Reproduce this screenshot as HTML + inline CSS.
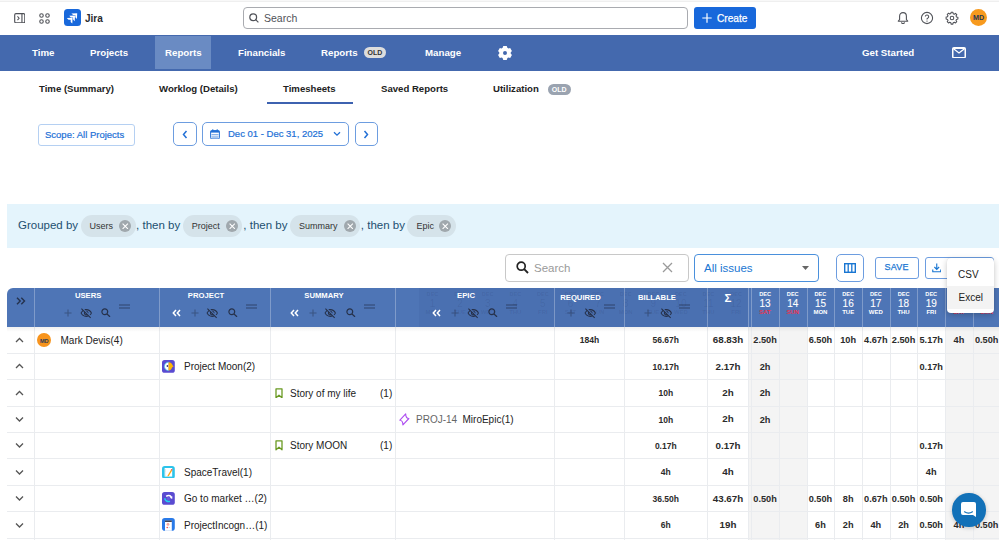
<!DOCTYPE html><html><head><meta charset="utf-8"><style>
*{box-sizing:border-box;margin:0;padding:0}
html,body{width:999px;height:540px;overflow:hidden;background:#fff;font-family:"Liberation Sans",sans-serif;color:#172b4d}
.abs{position:absolute}
.t{position:absolute;white-space:nowrap;line-height:1}
#top{position:absolute;left:0;top:0;width:999px;height:34px;background:#fff;border-top:2px solid #efefef}
#nav{position:absolute;left:0;top:34.5px;width:999px;height:36px;background:#4469ae}
.nv{position:absolute;top:0;height:36px;line-height:36px;color:#fff;font-weight:bold;font-size:9.7px;white-space:nowrap}
.sub{position:absolute;top:83.3px;font-size:9.6px;font-weight:bold;color:#222;white-space:nowrap;line-height:12px}
.badge{display:inline-block;vertical-align:middle;background:#ddd;color:#333;border-radius:6px;font-size:7px;font-weight:bold;padding:0 4px;line-height:11px;position:relative;top:-0.5px}
.btn{position:absolute;border:1px solid #6d9de0;border-radius:4px;background:#fff}
.chip{position:absolute;top:215px;height:22px;border-radius:11px;background:#d5e3ea}
.chip span{position:absolute;top:6px;left:9px;font-size:9px;color:#333;white-space:nowrap;line-height:10px}
.cx{position:absolute;top:4.8px;width:12.2px;height:12.2px;border-radius:50%;background:#a0a8ad}
.gt{position:absolute;top:219px;font-size:11.5px;color:#1c4f70;white-space:nowrap;line-height:12px}
.hdr{position:absolute;left:7px;top:287.5px;width:992px;height:39.3px;background:#4e75b6;border-top-left-radius:6px}
.vl{position:absolute;width:1px;background:#eaecef}
.hl{position:absolute;height:1px;background:#eaecef;left:7px;width:992px}
.ht{position:absolute;top:292px;font-size:7.7px;font-weight:bold;color:#fff;white-space:nowrap;line-height:8px;text-align:center}
.num{position:absolute;font-size:9.2px;font-weight:bold;color:#2b2b2b;white-space:nowrap;line-height:10px;text-align:center}
.cell{position:absolute;font-size:10px;color:#222;white-space:nowrap;line-height:11px}
</style></head><body>
<div id="top">
<div class="abs" style="left:0;top:-2px;width:999px;height:1px;background:#f8f8f8"></div>
<svg class="abs" style="left:13.5px;top:10.6px" width="11.5" height="10.5" viewBox="0 0 12 11"><rect x="0.7" y="0.7" width="10.6" height="9.6" rx="1.3" fill="none" stroke="#505258" stroke-width="1.2"/><line x1="8.3" y1="0.7" x2="8.3" y2="10.3" stroke="#505258" stroke-width="1.2"/><path d="M3.6 3.6 L5.3 5.5 L3.6 7.4" fill="none" stroke="#505258" stroke-width="1.1"/></svg>
<svg class="abs" style="left:38.5px;top:10.5px" width="11" height="11" viewBox="0 0 11 11"><g fill="none" stroke="#505258" stroke-width="1.1"><circle cx="2.5" cy="2.5" r="1.75"/><circle cx="8.5" cy="2.5" r="1.75"/><circle cx="2.5" cy="8.5" r="1.75"/><circle cx="8.5" cy="8.5" r="1.75"/></g></svg>
<div class="abs" style="left:64px;top:7.3px;width:16.5px;height:16.5px;border-radius:3.5px;background:#1868db"></div>
<svg class="abs" style="left:64px;top:7.3px" width="16.5" height="16.5" viewBox="0 0 16.5 16.5"><g fill="#fff"><path d="M7.40 4.49 L13.20 4.20 L12.91 10.00 L11.30 8.29 L11.30 6.10 L9.11 6.10z"/><path d="M5.20 6.79 L11.00 6.50 L10.71 12.30 L9.10 10.59 L9.10 8.40 L6.91 8.40z"/><path d="M2.80 9.09 L8.60 8.80 L8.31 14.60 L6.70 12.89 L6.70 10.70 L4.51 10.70z"/></g></svg>
<div class="t" style="left:85px;top:11.6px;font-size:10px;font-weight:bold;color:#292a2e">Jira</div>
<div class="abs" style="left:243px;top:5px;width:445px;height:22px;border:1px solid #a9abb0;border-radius:4px"></div>
<svg class="abs" style="left:248.5px;top:11px" width="10" height="10" viewBox="0 0 10 10"><circle cx="4.2" cy="4.2" r="3.4" fill="none" stroke="#505258" stroke-width="1.2"/><line x1="6.7" y1="6.7" x2="9.4" y2="9.4" stroke="#505258" stroke-width="1.2"/></svg>
<div class="t" style="left:264px;top:11px;font-size:10.5px;color:#505258">Search</div>
<div class="abs" style="left:694px;top:5px;width:62px;height:22px;background:#1868db;border-radius:3px"></div>
<svg class="abs" style="left:702px;top:11px" width="10" height="10" viewBox="0 0 10 10"><path d="M5 0.3v9.4M0.3 5h9.4" stroke="#fff" stroke-width="1.2"/></svg>
<div class="t" style="left:717px;top:11.8px;font-size:10.1px;color:#fff;-webkit-text-stroke:0.25px #fff">Create</div>
<svg class="abs" style="left:896.5px;top:9px" width="12" height="13" viewBox="0 0 12 13"><path d="M6 1.6C4 1.6 2.6 3.2 2.6 5.2v3.3L1.3 10.2h9.4L9.4 8.5V5.2C9.4 3.2 8 1.6 6 1.6z" fill="none" stroke="#505258" stroke-width="1.1" stroke-linejoin="round"/><path d="M4.6 11.2a1.4 1.4 0 0 0 2.8 0" fill="none" stroke="#505258" stroke-width="1.1"/></svg>
<svg class="abs" style="left:920px;top:9px" width="14" height="14" viewBox="0 0 14 14"><circle cx="7" cy="7" r="5.6" fill="none" stroke="#505258" stroke-width="1.1"/><path d="M5.3 5.6a1.7 1.7 0 1 1 2.4 1.6c-.5.2-.7.6-.7 1.1v.3" fill="none" stroke="#505258" stroke-width="1.1"/><circle cx="7" cy="10.1" r=".7" fill="#505258"/></svg>
<svg class="abs" style="left:945px;top:9px" width="14" height="14" viewBox="0 0 14 14"><path d="M6.1 1.3h1.8l.3 1.4 1.1.5 1.2-.8 1.3 1.3-.8 1.2.5 1.1 1.4.3v1.8l-1.4.3-.5 1.1.8 1.2-1.3 1.3-1.2-.8-1.1.5-.3 1.4H6.1l-.3-1.4-1.1-.5-1.2.8-1.3-1.3.8-1.2-.5-1.1L1.1 7.9V6.1l1.4-.3.5-1.1-.8-1.2 1.3-1.3 1.2.8 1.1-.5z" fill="none" stroke="#505258" stroke-width="1.05" stroke-linejoin="round"/><circle cx="7" cy="7" r="1.8" fill="none" stroke="#505258" stroke-width="1.05"/></svg>
<div class="abs" style="left:970px;top:7px;width:17px;height:17px;border-radius:50%;background:#f79a1e;color:#253858;font-size:7.2px;font-weight:bold;text-align:center;line-height:17px">MD</div>
</div>
<div id="nav">
<div class="nv" style="left:32px">Time</div>
<div class="nv" style="left:90px">Projects</div>
<div class="abs" style="left:155px;top:1.8px;width:56px;height:33px;background:#6a8bc3"></div>
<div class="nv" style="left:165px">Reports</div>
<div class="nv" style="left:238px">Financials</div>
<div class="nv" style="left:321px">Reports<span class="badge" style="margin-left:6px">OLD</span></div>
<div class="nv" style="left:425px">Manage</div>
<svg class="abs" style="left:496.7px;top:10.2px" width="16" height="16" viewBox="0 0 16 16"><path fill="#fff" fill-rule="evenodd" d="M5.67 2.80 L6.27 1.01 L9.73 1.01 L10.33 2.80 A5.70 5.70 0 0 1 11.34 3.38 L13.19 3.01 L14.92 6.01 L13.67 7.42 A5.70 5.70 0 0 1 13.67 8.58 L14.92 9.99 L13.19 12.99 L11.34 12.62 A5.70 5.70 0 0 1 10.33 13.20 L9.73 14.99 L6.27 14.99 L5.67 13.20 A5.70 5.70 0 0 1 4.66 12.62 L2.81 12.99 L1.08 9.99 L2.33 8.58 A5.70 5.70 0 0 1 2.33 7.42 L1.08 6.01 L2.81 3.01 L4.66 3.38 A5.70 5.70 0 0 1 5.67 2.80 z M6.00 8.00 a2.00 2.00 0 1 0 4.00 0 a2.00 2.00 0 1 0 -4.00 0z"/></svg>
<div class="nv" style="left:862px">Get Started</div>
<svg class="abs" style="left:952px;top:12.4px" width="14" height="11.5" viewBox="0 0 14 11.5"><rect x="0.75" y="0.75" width="12.5" height="10" rx="1.3" fill="none" stroke="#fff" stroke-width="1.5"/><rect x="0.75" y="0.75" width="12.5" height="1.2" fill="#fff"/><path d="M1.5 1.8L7 6 12.5 1.8" fill="none" stroke="#fff" stroke-width="1.3"/></svg>
</div>
<div class="sub" style="left:39px">Time (Summary)</div>
<div class="sub" style="left:159px">Worklog (Details)</div>
<div class="sub" style="left:283px">Timesheets</div>
<div class="abs" style="left:267px;top:102px;width:86px;height:2px;background:#3d62b0"></div>
<div class="sub" style="left:381px">Saved Reports</div>
<div class="sub" style="left:493px">Utilization<span class="badge" style="margin-left:9px;background:#9aa3b0;color:#fff">OLD</span></div>
<div class="btn" style="left:38px;top:124px;width:97px;height:22px;border-color:#b5d0f2;border-radius:3px"></div>
<div class="t" style="left:45px;top:130px;font-size:9.5px;color:#2270d6;-webkit-text-stroke:0.2px #2270d6">Scope: All Projects</div>
<div class="btn" style="left:173px;top:122px;width:24px;height:24px;border-radius:5px"></div>
<svg class="abs" style="left:181px;top:130px" width="8" height="9" viewBox="0 0 8 9"><path d="M5.5 1L2.5 4.5 5.5 8" fill="none" stroke="#2270d6" stroke-width="1.5"/></svg>
<div class="btn" style="left:202px;top:122px;width:147px;height:24px;border-radius:5px"></div>
<svg class="abs" style="left:210px;top:128.5px" width="10" height="10.5" viewBox="0 0 10 10.5"><rect x="0.6" y="1.6" width="8.8" height="8.4" rx="1.2" fill="none" stroke="#2270d6" stroke-width="1"/><rect x="0.6" y="1.6" width="8.8" height="2" fill="#2270d6"/><path d="M2.8 0.2v2M7.2 0.2v2" stroke="#2270d6" stroke-width="1"/><path d="M1.5 5.5h7M1.5 7.2h7M1.5 8.8h7" stroke="#2270d6" stroke-width="0.55"/></svg>
<div class="t" style="left:228px;top:129px;font-size:9.5px;color:#2270d6;-webkit-text-stroke:0.2px #2270d6">Dec 01 - Dec 31, 2025</div>
<svg class="abs" style="left:333px;top:131px" width="8" height="6" viewBox="0 0 8 6"><path d="M1 1.2L4 4.2 7 1.2" fill="none" stroke="#2270d6" stroke-width="1.3"/></svg>
<div class="btn" style="left:355px;top:122px;width:23px;height:24px;border-radius:5px"></div>
<svg class="abs" style="left:362px;top:130px" width="8" height="9" viewBox="0 0 8 9"><path d="M2.5 1L5.5 4.5 2.5 8" fill="none" stroke="#2270d6" stroke-width="1.5"/></svg>

<div class="abs" style="left:7px;top:204px;width:992px;height:44px;background:#e4f4fc"></div>
<div class="gt" style="left:18px">Grouped by</div>
<div class="chip" style="left:80.6px;width:55.30000000000001px"><span>Users</span><div class="cx" style="left:38.60000000000001px"><svg class="abs" style="left:3px;top:3px" width="6.5" height="6.5" viewBox="0 0 6.5 6.5"><path d="M0.6 0.6l5.3 5.3M5.9 0.6l-5.3 5.3" stroke="#fff" stroke-width="1.05"/></svg></div></div>
<div class="chip" style="left:182.8px;width:59.5px"><span>Project</span><div class="cx" style="left:42.8px"><svg class="abs" style="left:3px;top:3px" width="6.5" height="6.5" viewBox="0 0 6.5 6.5"><path d="M0.6 0.6l5.3 5.3M5.9 0.6l-5.3 5.3" stroke="#fff" stroke-width="1.05"/></svg></div></div>
<div class="chip" style="left:290px;width:70.39999999999998px"><span>Summary</span><div class="cx" style="left:53.699999999999974px"><svg class="abs" style="left:3px;top:3px" width="6.5" height="6.5" viewBox="0 0 6.5 6.5"><path d="M0.6 0.6l5.3 5.3M5.9 0.6l-5.3 5.3" stroke="#fff" stroke-width="1.05"/></svg></div></div>
<div class="chip" style="left:407.4px;width:48.60000000000002px"><span>Epic</span><div class="cx" style="left:31.900000000000023px"><svg class="abs" style="left:3px;top:3px" width="6.5" height="6.5" viewBox="0 0 6.5 6.5"><path d="M0.6 0.6l5.3 5.3M5.9 0.6l-5.3 5.3" stroke="#fff" stroke-width="1.05"/></svg></div></div>
<div class="gt" style="left:136.1px">, then by</div>
<div class="gt" style="left:243.3px">, then by</div>
<div class="gt" style="left:360.8px">, then by</div>
<div class="abs" style="left:505px;top:254px;width:184px;height:28px;border:1px solid #c8c8c8;border-radius:4px"></div>
<svg class="abs" style="left:516px;top:261px" width="13" height="13" viewBox="0 0 13 13"><circle cx="5.2" cy="5.2" r="4" fill="none" stroke="#222" stroke-width="1.7"/><line x1="8.2" y1="8.2" x2="12" y2="12" stroke="#222" stroke-width="1.9"/></svg>
<div class="t" style="left:534px;top:262.7px;font-size:11.5px;color:#9a9a9a">Search</div>
<svg class="abs" style="left:662px;top:262px" width="11" height="11" viewBox="0 0 11 11"><path d="M1 1l9 9M10 1l-9 9" stroke="#9a9a9a" stroke-width="1.3"/></svg>
<div class="abs" style="left:694px;top:254px;width:125px;height:28px;border:1px solid #4a90dc;border-radius:4px"></div>
<div class="t" style="left:704px;top:263px;font-size:11.5px;color:#1976d2">All issues</div>
<svg class="abs" style="left:802px;top:266px" width="7" height="4" viewBox="0 0 7 4"><path d="M0 0h7L3.5 4z" fill="#666"/></svg>
<div class="abs" style="left:835.5px;top:254px;width:28px;height:28px;border:1px solid #6d9de0;border-radius:5px"></div>
<svg class="abs" style="left:843.5px;top:263px" width="12" height="10" viewBox="0 0 12 10"><rect x="0.7" y="0.7" width="10.6" height="8.6" fill="none" stroke="#1976d2" stroke-width="1.4"/><path d="M4.2 0.7v8.6M7.8 0.7v8.6" stroke="#1976d2" stroke-width="1.3"/></svg>
<div class="abs" style="left:874.5px;top:257px;width:44px;height:22px;border:1px solid #6d9de0;border-radius:3px"></div>
<div class="t" style="left:884.5px;top:262.8px;font-size:9px;color:#1976d2;letter-spacing:0.2px;-webkit-text-stroke:0.25px #1976d2">SAVE</div>
<div class="abs" style="left:924.5px;top:257px;width:69px;height:22px;border:1px solid #6d9de0;border-radius:3px"></div>
<svg class="abs" style="left:931.8px;top:263px" width="9.5" height="9.5" viewBox="0 0 10 10"><path d="M5 0.6v6M2.5 4.2L5 6.7l2.5-2.5" fill="none" stroke="#1976d2" stroke-width="1.2"/><path d="M0.8 6.8v2.4h8.4V6.8" fill="none" stroke="#1976d2" stroke-width="1.2"/></svg>

<div class="hdr"></div>
<div class="abs" style="left:419px;top:287.5px;width:329px;height:39.3px;background:rgba(10,25,70,0.045)"></div>
<div class="t" style="left:418.50px;width:28px;text-align:center;top:292px;font-size:5.6px;font-weight:bold;color:rgba(10,25,70,0.10)">DEC</div>
<div class="t" style="left:418.50px;width:28px;text-align:center;top:298.9px;font-size:10px;color:rgba(10,25,70,0.10)">1</div>
<div class="t" style="left:418.50px;width:28px;text-align:center;top:309px;font-size:6px;font-weight:bold;color:rgba(10,25,70,0.10)">MON</div>
<div class="t" style="left:446.10px;width:28px;text-align:center;top:292px;font-size:5.6px;font-weight:bold;color:rgba(10,25,70,0.10)">DEC</div>
<div class="t" style="left:446.10px;width:28px;text-align:center;top:298.9px;font-size:10px;color:rgba(10,25,70,0.10)">2</div>
<div class="t" style="left:446.10px;width:28px;text-align:center;top:309px;font-size:6px;font-weight:bold;color:rgba(10,25,70,0.10)">TUE</div>
<div class="t" style="left:473.70px;width:28px;text-align:center;top:292px;font-size:5.6px;font-weight:bold;color:rgba(10,25,70,0.10)">DEC</div>
<div class="t" style="left:473.70px;width:28px;text-align:center;top:298.9px;font-size:10px;color:rgba(10,25,70,0.10)">3</div>
<div class="t" style="left:473.70px;width:28px;text-align:center;top:309px;font-size:6px;font-weight:bold;color:rgba(10,25,70,0.10)">WED</div>
<div class="t" style="left:501.30px;width:28px;text-align:center;top:292px;font-size:5.6px;font-weight:bold;color:rgba(10,25,70,0.10)">DEC</div>
<div class="t" style="left:501.30px;width:28px;text-align:center;top:298.9px;font-size:10px;color:rgba(10,25,70,0.10)">4</div>
<div class="t" style="left:501.30px;width:28px;text-align:center;top:309px;font-size:6px;font-weight:bold;color:rgba(10,25,70,0.10)">THU</div>
<div class="t" style="left:528.90px;width:28px;text-align:center;top:292px;font-size:5.6px;font-weight:bold;color:rgba(10,25,70,0.10)">DEC</div>
<div class="t" style="left:528.90px;width:28px;text-align:center;top:298.9px;font-size:10px;color:rgba(10,25,70,0.10)">5</div>
<div class="t" style="left:528.90px;width:28px;text-align:center;top:309px;font-size:6px;font-weight:bold;color:rgba(10,25,70,0.10)">FRI</div>
<div class="t" style="left:556.50px;width:28px;text-align:center;top:292px;font-size:5.6px;font-weight:bold;color:rgba(10,25,70,0.10)">DEC</div>
<div class="t" style="left:556.50px;width:28px;text-align:center;top:298.9px;font-size:10px;color:rgba(10,25,70,0.10)">6</div>
<div class="t" style="left:556.50px;width:28px;text-align:center;top:309px;font-size:6px;font-weight:bold;color:rgba(10,25,70,0.10)">SAT</div>
<div class="t" style="left:584.10px;width:28px;text-align:center;top:292px;font-size:5.6px;font-weight:bold;color:rgba(10,25,70,0.10)">DEC</div>
<div class="t" style="left:584.10px;width:28px;text-align:center;top:298.9px;font-size:10px;color:rgba(10,25,70,0.10)">7</div>
<div class="t" style="left:584.10px;width:28px;text-align:center;top:309px;font-size:6px;font-weight:bold;color:rgba(10,25,70,0.10)">SUN</div>
<div class="t" style="left:611.70px;width:28px;text-align:center;top:292px;font-size:5.6px;font-weight:bold;color:rgba(10,25,70,0.10)">DEC</div>
<div class="t" style="left:611.70px;width:28px;text-align:center;top:298.9px;font-size:10px;color:rgba(10,25,70,0.10)">8</div>
<div class="t" style="left:611.70px;width:28px;text-align:center;top:309px;font-size:6px;font-weight:bold;color:rgba(10,25,70,0.10)">MON</div>
<div class="t" style="left:639.30px;width:28px;text-align:center;top:292px;font-size:5.6px;font-weight:bold;color:rgba(10,25,70,0.10)">DEC</div>
<div class="t" style="left:639.30px;width:28px;text-align:center;top:298.9px;font-size:10px;color:rgba(10,25,70,0.10)">9</div>
<div class="t" style="left:639.30px;width:28px;text-align:center;top:309px;font-size:6px;font-weight:bold;color:rgba(10,25,70,0.10)">TUE</div>
<div class="t" style="left:666.90px;width:28px;text-align:center;top:292px;font-size:5.6px;font-weight:bold;color:rgba(10,25,70,0.10)">DEC</div>
<div class="t" style="left:666.90px;width:28px;text-align:center;top:298.9px;font-size:10px;color:rgba(10,25,70,0.10)">10</div>
<div class="t" style="left:666.90px;width:28px;text-align:center;top:309px;font-size:6px;font-weight:bold;color:rgba(10,25,70,0.10)">WED</div>
<div class="t" style="left:694.50px;width:28px;text-align:center;top:292px;font-size:5.6px;font-weight:bold;color:rgba(10,25,70,0.10)">DEC</div>
<div class="t" style="left:694.50px;width:28px;text-align:center;top:298.9px;font-size:10px;color:rgba(10,25,70,0.10)">11</div>
<div class="t" style="left:694.50px;width:28px;text-align:center;top:309px;font-size:6px;font-weight:bold;color:rgba(10,25,70,0.10)">THU</div>
<div class="t" style="left:722.10px;width:28px;text-align:center;top:292px;font-size:5.6px;font-weight:bold;color:rgba(10,25,70,0.10)">DEC</div>
<div class="t" style="left:722.10px;width:28px;text-align:center;top:298.9px;font-size:10px;color:rgba(10,25,70,0.10)">12</div>
<div class="t" style="left:722.10px;width:28px;text-align:center;top:309px;font-size:6px;font-weight:bold;color:rgba(10,25,70,0.10)">FRI</div>
<div class="abs" style="left:34.3px;top:287px;width:1px;height:40px;background:rgba(255,255,255,0.28)"></div>
<div class="abs" style="left:159.3px;top:287px;width:1px;height:40px;background:rgba(255,255,255,0.28)"></div>
<div class="abs" style="left:270.4px;top:287px;width:1px;height:40px;background:rgba(255,255,255,0.28)"></div>
<div class="abs" style="left:394.8px;top:287px;width:1px;height:40px;background:rgba(255,255,255,0.28)"></div>
<div class="abs" style="left:554.3px;top:287px;width:1px;height:40px;background:rgba(255,255,255,0.28)"></div>
<div class="abs" style="left:624.1px;top:287px;width:1px;height:40px;background:rgba(255,255,255,0.28)"></div>
<div class="abs" style="left:707.4px;top:287px;width:1px;height:40px;background:rgba(255,255,255,0.28)"></div>
<div class="abs" style="left:748.3px;top:287px;width:1px;height:40px;background:rgba(255,255,255,0.28)"></div>
<div class="abs" style="left:750.5px;top:287px;width:1px;height:40px;background:rgba(255,255,255,0.28)"></div>
<div class="abs" style="left:778.90px;top:287px;width:1px;height:40px;background:rgba(255,255,255,0.28)"></div>
<div class="abs" style="left:806.60px;top:287px;width:1px;height:40px;background:rgba(255,255,255,0.28)"></div>
<div class="abs" style="left:834.30px;top:287px;width:1px;height:40px;background:rgba(255,255,255,0.28)"></div>
<div class="abs" style="left:862.00px;top:287px;width:1px;height:40px;background:rgba(255,255,255,0.28)"></div>
<div class="abs" style="left:889.70px;top:287px;width:1px;height:40px;background:rgba(255,255,255,0.28)"></div>
<div class="abs" style="left:917.40px;top:287px;width:1px;height:40px;background:rgba(255,255,255,0.28)"></div>
<div class="abs" style="left:945.10px;top:287px;width:1px;height:40px;background:rgba(255,255,255,0.28)"></div>
<div class="abs" style="left:972.80px;top:287px;width:1px;height:40px;background:rgba(255,255,255,0.28)"></div>
<div class="abs" style="left:1000.50px;top:287px;width:1px;height:40px;background:rgba(255,255,255,0.28)"></div>
<svg class="abs" style="left:15.5px;top:297px" width="10" height="8" viewBox="0 0 10 8"><path d="M1 0.8L4.2 4 1 7.2M5.3 0.8L8.5 4 5.3 7.2" fill="none" stroke="#25324d" stroke-width="1.4"/></svg>
<div class="ht" style="left:48.2px;width:80px;top:292.2px">USERS</div>
<svg class="abs" style="left:64.3px;top:308.6px" width="8" height="8" viewBox="0 0 8 8"><path d="M4 0.5v7M0.5 4h7" stroke="rgba(30,40,65,0.42)" stroke-width="1.1"/></svg>
<svg class="abs" style="left:79.8px;top:307px" width="12.5" height="12.5" viewBox="0 0 24 24"><path fill="#26314a" d="M12 6c3.79 0 7.17 2.13 8.82 5.5-.59 1.22-1.42 2.27-2.41 3.12l1.41 1.41c1.39-1.230 2.49-2.77 3.18-4.53C21.27 7.11 17 4 12 4c-1.27 0-2.49.2-3.64.57l1.65 1.65C10.66 6.09 11.32 6 12 6zm-1.07 1.14L13 9.21c.57.25 1.03.71 1.28 1.28l2.07 2.07c.08-.34.14-.7.14-1.07C16.5 9.01 14.48 7 12 7c-.37 0-.72.05-1.07.14zM2.01 3.87l2.68 2.68C3.06 7.830 1.77 9.53 1 11.5 2.73 15.89 7 19 12 19c1.52 0 2.98-.29 4.32-.82l3.42 3.42 1.41-1.41L3.42 2.45 2.01 3.870zm7.5 7.5l2.61 2.61c-.04.01-.08.02-.12.02-1.38 0-2.5-1.12-2.5-2.5 0-.05.01-.08.01-.13zm-3.4-3.4l1.75 1.75c-.23.55-.36 1.15-.36 1.78 0 2.48 2.02 4.5 4.5 4.5.63 0 1.23-.13 1.77-.36l.98.98c-.88.24-1.8.38-2.75.38-3.790 0-7.17-2.13-8.82-5.5.7-1.43 1.72-2.61 2.93-3.53z"/></svg>
<svg class="abs" style="left:101px;top:308px" width="9.5" height="9" viewBox="0 0 9.5 9"><circle cx="3.8" cy="3.8" r="2.9" fill="none" stroke="#26314a" stroke-width="1.2"/><path d="M5.9 5.9L9 8.8" stroke="#26314a" stroke-width="1.3"/></svg>
<svg class="abs" style="left:119px;top:304.0px" width="11" height="5" viewBox="0 0 11 5"><path d="M0 1h11M0 4h11" stroke="rgba(30,40,65,0.62)" stroke-width="1.1"/></svg>
<div class="ht" style="left:166px;width:80px;top:292.2px">PROJECT</div>
<svg class="abs" style="left:171.5px;top:309px" width="9" height="8" viewBox="0 0 9 8"><path d="M4 1L1.3 4 4 7M8 1L5.3 4 8 7" fill="none" stroke="#fff" stroke-width="1.5"/></svg>
<svg class="abs" style="left:191px;top:308.6px" width="8" height="8" viewBox="0 0 8 8"><path d="M4 0.5v7M0.5 4h7" stroke="rgba(30,40,65,0.42)" stroke-width="1.1"/></svg>
<svg class="abs" style="left:206.0px;top:307px" width="12.5" height="12.5" viewBox="0 0 24 24"><path fill="#26314a" d="M12 6c3.79 0 7.17 2.13 8.82 5.5-.59 1.22-1.42 2.27-2.41 3.12l1.41 1.41c1.39-1.230 2.49-2.77 3.18-4.53C21.27 7.11 17 4 12 4c-1.27 0-2.49.2-3.64.57l1.65 1.65C10.66 6.09 11.32 6 12 6zm-1.07 1.14L13 9.21c.57.25 1.03.71 1.28 1.28l2.07 2.07c.08-.34.14-.7.14-1.07C16.5 9.01 14.48 7 12 7c-.37 0-.72.05-1.07.14zM2.01 3.87l2.68 2.68C3.06 7.830 1.77 9.53 1 11.5 2.73 15.89 7 19 12 19c1.52 0 2.98-.29 4.32-.82l3.42 3.42 1.41-1.41L3.42 2.45 2.01 3.870zm7.5 7.5l2.61 2.61c-.04.01-.08.02-.12.02-1.38 0-2.5-1.12-2.5-2.5 0-.05.01-.08.01-.13zm-3.4-3.4l1.75 1.75c-.23.55-.36 1.15-.36 1.78 0 2.48 2.02 4.5 4.5 4.5.63 0 1.23-.13 1.77-.36l.98.98c-.88.24-1.8.38-2.75.38-3.790 0-7.17-2.13-8.82-5.5.7-1.43 1.72-2.61 2.93-3.53z"/></svg>
<svg class="abs" style="left:228px;top:308px" width="9.5" height="9" viewBox="0 0 9.5 9"><circle cx="3.8" cy="3.8" r="2.9" fill="none" stroke="#26314a" stroke-width="1.2"/><path d="M5.9 5.9L9 8.8" stroke="#26314a" stroke-width="1.3"/></svg>
<svg class="abs" style="left:245.5px;top:304.0px" width="11" height="5" viewBox="0 0 11 5"><path d="M0 1h11M0 4h11" stroke="rgba(30,40,65,0.62)" stroke-width="1.1"/></svg>
<div class="ht" style="left:284px;width:80px;top:292.2px">SUMMARY</div>
<svg class="abs" style="left:289.5px;top:309px" width="9" height="8" viewBox="0 0 9 8"><path d="M4 1L1.3 4 4 7M8 1L5.3 4 8 7" fill="none" stroke="#fff" stroke-width="1.5"/></svg>
<svg class="abs" style="left:309px;top:308.6px" width="8" height="8" viewBox="0 0 8 8"><path d="M4 0.5v7M0.5 4h7" stroke="rgba(30,40,65,0.42)" stroke-width="1.1"/></svg>
<svg class="abs" style="left:324.0px;top:307px" width="12.5" height="12.5" viewBox="0 0 24 24"><path fill="#26314a" d="M12 6c3.79 0 7.17 2.13 8.82 5.5-.59 1.22-1.42 2.27-2.41 3.12l1.41 1.41c1.39-1.230 2.49-2.77 3.18-4.53C21.27 7.11 17 4 12 4c-1.27 0-2.49.2-3.64.57l1.65 1.65C10.66 6.09 11.32 6 12 6zm-1.07 1.14L13 9.21c.57.25 1.03.71 1.28 1.28l2.07 2.07c.08-.34.14-.7.14-1.07C16.5 9.01 14.48 7 12 7c-.37 0-.72.05-1.07.14zM2.01 3.87l2.68 2.68C3.06 7.830 1.77 9.53 1 11.5 2.73 15.89 7 19 12 19c1.52 0 2.98-.29 4.32-.82l3.42 3.42 1.41-1.41L3.42 2.45 2.01 3.870zm7.5 7.5l2.61 2.61c-.04.01-.08.02-.12.02-1.38 0-2.5-1.12-2.5-2.5 0-.05.01-.08.01-.13zm-3.4-3.4l1.75 1.75c-.23.55-.36 1.15-.36 1.78 0 2.48 2.02 4.5 4.5 4.5.63 0 1.23-.13 1.77-.36l.98.98c-.88.24-1.8.38-2.75.38-3.790 0-7.17-2.13-8.82-5.5.7-1.43 1.72-2.61 2.93-3.53z"/></svg>
<svg class="abs" style="left:346px;top:308px" width="9.5" height="9" viewBox="0 0 9.5 9"><circle cx="3.8" cy="3.8" r="2.9" fill="none" stroke="#26314a" stroke-width="1.2"/><path d="M5.9 5.9L9 8.8" stroke="#26314a" stroke-width="1.3"/></svg>
<svg class="abs" style="left:364px;top:304.0px" width="11" height="5" viewBox="0 0 11 5"><path d="M0 1h11M0 4h11" stroke="rgba(30,40,65,0.62)" stroke-width="1.1"/></svg>
<div class="ht" style="left:426px;width:80px;top:292.2px">EPIC</div>
<svg class="abs" style="left:432px;top:309px" width="9" height="8" viewBox="0 0 9 8"><path d="M4 1L1.3 4 4 7M8 1L5.3 4 8 7" fill="none" stroke="#fff" stroke-width="1.5"/></svg>
<svg class="abs" style="left:451px;top:308.6px" width="8" height="8" viewBox="0 0 8 8"><path d="M4 0.5v7M0.5 4h7" stroke="rgba(30,40,65,0.42)" stroke-width="1.1"/></svg>
<svg class="abs" style="left:466.5px;top:307px" width="12.5" height="12.5" viewBox="0 0 24 24"><path fill="#26314a" d="M12 6c3.79 0 7.17 2.13 8.82 5.5-.59 1.22-1.42 2.27-2.41 3.12l1.41 1.41c1.39-1.230 2.49-2.77 3.18-4.53C21.27 7.11 17 4 12 4c-1.27 0-2.49.2-3.64.57l1.65 1.65C10.66 6.09 11.32 6 12 6zm-1.07 1.14L13 9.21c.57.25 1.03.71 1.28 1.28l2.07 2.07c.08-.34.14-.7.14-1.07C16.5 9.01 14.48 7 12 7c-.37 0-.72.05-1.07.14zM2.01 3.87l2.68 2.68C3.06 7.830 1.77 9.53 1 11.5 2.73 15.89 7 19 12 19c1.52 0 2.98-.29 4.32-.82l3.42 3.42 1.41-1.41L3.42 2.45 2.01 3.870zm7.5 7.5l2.61 2.61c-.04.01-.08.02-.12.02-1.38 0-2.5-1.12-2.5-2.5 0-.05.01-.08.01-.13zm-3.4-3.4l1.75 1.75c-.23.55-.36 1.15-.36 1.78 0 2.48 2.02 4.5 4.5 4.5.63 0 1.23-.13 1.77-.36l.98.98c-.88.24-1.8.38-2.75.38-3.790 0-7.17-2.13-8.82-5.5.7-1.43 1.72-2.61 2.93-3.53z"/></svg>
<svg class="abs" style="left:488px;top:308px" width="9.5" height="9" viewBox="0 0 9.5 9"><circle cx="3.8" cy="3.8" r="2.9" fill="none" stroke="#26314a" stroke-width="1.2"/><path d="M5.9 5.9L9 8.8" stroke="#26314a" stroke-width="1.3"/></svg>
<svg class="abs" style="left:506px;top:304.0px" width="11" height="5" viewBox="0 0 11 5"><path d="M0 1h11M0 4h11" stroke="rgba(30,40,65,0.62)" stroke-width="1.1"/></svg>
<div class="ht" style="left:540.5px;width:80px;top:293.6px">REQUIRED</div>
<svg class="abs" style="left:567px;top:308.6px" width="8" height="8" viewBox="0 0 8 8"><path d="M4 0.5v7M0.5 4h7" stroke="rgba(30,40,65,0.42)" stroke-width="1.1"/></svg>
<svg class="abs" style="left:583.5px;top:307px" width="12.5" height="12.5" viewBox="0 0 24 24"><path fill="#26314a" d="M12 6c3.79 0 7.17 2.13 8.82 5.5-.59 1.22-1.42 2.27-2.41 3.12l1.41 1.41c1.39-1.230 2.49-2.77 3.18-4.53C21.27 7.11 17 4 12 4c-1.27 0-2.49.2-3.64.57l1.65 1.65C10.66 6.09 11.32 6 12 6zm-1.07 1.14L13 9.21c.57.25 1.03.71 1.28 1.28l2.07 2.07c.08-.34.14-.7.14-1.07C16.5 9.01 14.48 7 12 7c-.37 0-.72.05-1.07.14zM2.01 3.87l2.68 2.68C3.06 7.830 1.77 9.53 1 11.5 2.73 15.89 7 19 12 19c1.52 0 2.98-.29 4.32-.82l3.42 3.42 1.41-1.41L3.42 2.45 2.01 3.870zm7.5 7.5l2.61 2.61c-.04.01-.08.02-.12.02-1.38 0-2.5-1.12-2.5-2.5 0-.05.01-.08.01-.13zm-3.4-3.4l1.75 1.75c-.23.55-.36 1.15-.36 1.78 0 2.48 2.02 4.5 4.5 4.5.63 0 1.23-.13 1.77-.36l.98.98c-.88.24-1.8.38-2.75.38-3.790 0-7.17-2.13-8.82-5.5.7-1.43 1.72-2.61 2.93-3.53z"/></svg>
<svg class="abs" style="left:604px;top:303.5px" width="11" height="5" viewBox="0 0 11 5"><path d="M0 1h11M0 4h11" stroke="rgba(30,40,65,0.62)" stroke-width="1.1"/></svg>
<div class="ht" style="left:617px;width:80px;top:293.6px">BILLABLE</div>
<svg class="abs" style="left:643.5px;top:308.6px" width="8" height="8" viewBox="0 0 8 8"><path d="M4 0.5v7M0.5 4h7" stroke="rgba(30,40,65,0.42)" stroke-width="1.1"/></svg>
<svg class="abs" style="left:659.5px;top:307px" width="12.5" height="12.5" viewBox="0 0 24 24"><path fill="#26314a" d="M12 6c3.79 0 7.17 2.13 8.82 5.5-.59 1.22-1.42 2.27-2.41 3.12l1.41 1.41c1.39-1.230 2.49-2.77 3.18-4.53C21.27 7.11 17 4 12 4c-1.27 0-2.49.2-3.64.57l1.65 1.65C10.66 6.09 11.32 6 12 6zm-1.07 1.14L13 9.21c.57.25 1.03.71 1.28 1.28l2.07 2.07c.08-.34.14-.7.14-1.07C16.5 9.01 14.48 7 12 7c-.37 0-.72.05-1.07.14zM2.01 3.87l2.68 2.68C3.06 7.830 1.77 9.53 1 11.5 2.73 15.89 7 19 12 19c1.52 0 2.98-.29 4.32-.82l3.42 3.42 1.41-1.41L3.42 2.45 2.01 3.870zm7.5 7.5l2.61 2.61c-.04.01-.08.02-.12.02-1.38 0-2.5-1.12-2.5-2.5 0-.05.01-.08.01-.13zm-3.4-3.4l1.75 1.75c-.23.55-.36 1.15-.36 1.78 0 2.48 2.02 4.5 4.5 4.5.63 0 1.23-.13 1.77-.36l.98.98c-.88.24-1.8.38-2.75.38-3.790 0-7.17-2.13-8.82-5.5.7-1.43 1.72-2.61 2.93-3.53z"/></svg>
<svg class="abs" style="left:678.5px;top:303.5px" width="11" height="5" viewBox="0 0 11 5"><path d="M0 1h11M0 4h11" stroke="rgba(30,40,65,0.62)" stroke-width="1.1"/></svg>
<div class="t" style="left:724.5px;top:292.5px;font-size:11.5px;font-weight:bold;color:#fff">&Sigma;</div>
<div class="t" style="left:751.05px;width:28px;text-align:center;top:292px;font-size:5.6px;font-weight:bold;color:#fff">DEC</div>
<div class="t" style="left:751.05px;width:28px;text-align:center;top:298.9px;font-size:10px;color:#fff;-webkit-text-stroke:0.1px #fff">13</div>
<div class="t" style="left:751.05px;width:28px;text-align:center;top:309px;font-size:6px;font-weight:bold;color:#e8344e">SAT</div>
<div class="t" style="left:778.75px;width:28px;text-align:center;top:292px;font-size:5.6px;font-weight:bold;color:#fff">DEC</div>
<div class="t" style="left:778.75px;width:28px;text-align:center;top:298.9px;font-size:10px;color:#fff;-webkit-text-stroke:0.1px #fff">14</div>
<div class="t" style="left:778.75px;width:28px;text-align:center;top:309px;font-size:6px;font-weight:bold;color:#e8344e">SUN</div>
<div class="t" style="left:806.45px;width:28px;text-align:center;top:292px;font-size:5.6px;font-weight:bold;color:#fff">DEC</div>
<div class="t" style="left:806.45px;width:28px;text-align:center;top:298.9px;font-size:10px;color:#fff;-webkit-text-stroke:0.1px #fff">15</div>
<div class="t" style="left:806.45px;width:28px;text-align:center;top:309px;font-size:6px;font-weight:bold;color:#fff">MON</div>
<div class="t" style="left:834.15px;width:28px;text-align:center;top:292px;font-size:5.6px;font-weight:bold;color:#fff">DEC</div>
<div class="t" style="left:834.15px;width:28px;text-align:center;top:298.9px;font-size:10px;color:#fff;-webkit-text-stroke:0.1px #fff">16</div>
<div class="t" style="left:834.15px;width:28px;text-align:center;top:309px;font-size:6px;font-weight:bold;color:#fff">TUE</div>
<div class="t" style="left:861.85px;width:28px;text-align:center;top:292px;font-size:5.6px;font-weight:bold;color:#fff">DEC</div>
<div class="t" style="left:861.85px;width:28px;text-align:center;top:298.9px;font-size:10px;color:#fff;-webkit-text-stroke:0.1px #fff">17</div>
<div class="t" style="left:861.85px;width:28px;text-align:center;top:309px;font-size:6px;font-weight:bold;color:#fff">WED</div>
<div class="t" style="left:889.55px;width:28px;text-align:center;top:292px;font-size:5.6px;font-weight:bold;color:#fff">DEC</div>
<div class="t" style="left:889.55px;width:28px;text-align:center;top:298.9px;font-size:10px;color:#fff;-webkit-text-stroke:0.1px #fff">18</div>
<div class="t" style="left:889.55px;width:28px;text-align:center;top:309px;font-size:6px;font-weight:bold;color:#fff">THU</div>
<div class="t" style="left:917.25px;width:28px;text-align:center;top:292px;font-size:5.6px;font-weight:bold;color:#fff">DEC</div>
<div class="t" style="left:917.25px;width:28px;text-align:center;top:298.9px;font-size:10px;color:#fff;-webkit-text-stroke:0.1px #fff">19</div>
<div class="t" style="left:917.25px;width:28px;text-align:center;top:309px;font-size:6px;font-weight:bold;color:#fff">FRI</div>
<div class="t" style="left:944.95px;width:28px;text-align:center;top:292px;font-size:5.6px;font-weight:bold;color:#fff">DEC</div>
<div class="t" style="left:944.95px;width:28px;text-align:center;top:298.9px;font-size:10px;color:#fff;-webkit-text-stroke:0.1px #fff">20</div>
<div class="t" style="left:944.95px;width:28px;text-align:center;top:309px;font-size:6px;font-weight:bold;color:#e8344e">SAT</div>
<div class="t" style="left:972.65px;width:28px;text-align:center;top:292px;font-size:5.6px;font-weight:bold;color:#fff">DEC</div>
<div class="t" style="left:972.65px;width:28px;text-align:center;top:298.9px;font-size:10px;color:#fff;-webkit-text-stroke:0.1px #fff">21</div>
<div class="t" style="left:972.65px;width:28px;text-align:center;top:309px;font-size:6px;font-weight:bold;color:#e8344e">SUN</div>
<div class="abs" style="left:751.20px;top:327px;width:27.70px;height:213px;background:#f4f4f4"></div>
<div class="abs" style="left:778.90px;top:327px;width:27.70px;height:213px;background:#f4f4f4"></div>
<div class="abs" style="left:945.10px;top:327px;width:27.70px;height:213px;background:#f4f4f4"></div>
<div class="abs" style="left:972.80px;top:327px;width:27.70px;height:213px;background:#f4f4f4"></div>
<div class="abs" style="left:748.5px;top:327px;width:3px;height:213px;background:#f4f4f4"></div>
<div class="hl" style="top:352.70px"></div>
<div class="hl" style="top:379.10px"></div>
<div class="hl" style="top:405.50px"></div>
<div class="hl" style="top:431.90px"></div>
<div class="hl" style="top:458.30px"></div>
<div class="hl" style="top:484.70px"></div>
<div class="hl" style="top:511.10px"></div>
<div class="hl" style="top:537.50px"></div>
<div class="vl" style="left:34.3px;top:327px;height:213px"></div>
<div class="vl" style="left:159.3px;top:327px;height:213px"></div>
<div class="vl" style="left:270.4px;top:327px;height:213px"></div>
<div class="vl" style="left:394.8px;top:327px;height:213px"></div>
<div class="vl" style="left:554.3px;top:327px;height:213px"></div>
<div class="vl" style="left:624.1px;top:327px;height:213px"></div>
<div class="vl" style="left:707.4px;top:327px;height:213px"></div>
<div class="vl" style="left:748.3px;top:327px;height:213px"></div>
<div class="vl" style="left:750.8px;top:327px;height:213px"></div>
<div class="vl" style="left:778.90px;top:327px;height:213px"></div>
<div class="vl" style="left:806.60px;top:327px;height:213px"></div>
<div class="vl" style="left:834.30px;top:327px;height:213px"></div>
<div class="vl" style="left:862.00px;top:327px;height:213px"></div>
<div class="vl" style="left:889.70px;top:327px;height:213px"></div>
<div class="vl" style="left:917.40px;top:327px;height:213px"></div>
<div class="vl" style="left:945.10px;top:327px;height:213px"></div>
<div class="vl" style="left:972.80px;top:327px;height:213px"></div>
<div class="vl" style="left:1000.50px;top:327px;height:213px"></div>
<div class="abs" style="left:7px;top:327px;width:992px;height:5px;background:linear-gradient(rgba(0,0,0,0.06),rgba(0,0,0,0))"></div>
<svg class="abs" style="left:15px;top:336.70px" width="9" height="6.5" viewBox="0 0 9 6.5"><path d="M1 5L4.5 1.5 8 5" fill="none" stroke="#555" stroke-width="1.3"/></svg>
<div class="abs" style="left:37.4px;top:333.10px;width:13.8px;height:13.8px;border-radius:50%;background:#f7941d;color:#2b3a5a;font-size:5.6px;font-weight:bold;text-align:center;line-height:16.3px">MD</div>
<div class="cell" style="left:60.5px;top:334.70px">Mark Devis(4)</div>
<div class="num" style="left:554.5px;width:70px;top:335.40px;font-size:8.5px">184h</div>
<div class="num" style="left:624px;width:83.5px;top:335.40px;font-size:8.5px">56.67h</div>
<div class="num" style="left:707.5px;width:41px;top:335.10px;font-size:9.8px">68.83h</div>
<div class="num" style="left:751.20px;width:27.70px;top:335.40px">2.50h</div>
<div class="num" style="left:806.60px;width:27.70px;top:335.40px">6.50h</div>
<div class="num" style="left:834.30px;width:27.70px;top:335.40px">10h</div>
<div class="num" style="left:862.00px;width:27.70px;top:335.40px">4.67h</div>
<div class="num" style="left:889.70px;width:27.70px;top:335.40px">2.50h</div>
<div class="num" style="left:917.40px;width:27.70px;top:335.40px">5.17h</div>
<div class="num" style="left:945.10px;width:27.70px;top:335.40px">4h</div>
<div class="num" style="left:972.80px;width:27.70px;top:335.40px">0.50h</div>
<svg class="abs" style="left:15px;top:363.10px" width="9" height="6.5" viewBox="0 0 9 6.5"><path d="M1 5L4.5 1.5 8 5" fill="none" stroke="#555" stroke-width="1.3"/></svg>
<svg class="abs" style="left:162.1px;top:360.0px" width="12.8" height="12.8" viewBox="0 0 12.8 12.8"><rect width="12.8" height="12.8" rx="2.6" fill="#5a4bd1"/><path d="M6.6 2.2a4.2 4.2 0 0 0 0 8.4z" fill="#fff"/><path d="M6.6 2.2a4.2 4.2 0 0 0 0 8.4" fill="none" stroke="#3fd0e8" stroke-width=".7"/><path d="M6.6 2.2c2.3 0 3.6 1.6 4.1 3.4l1 .8-1.3.6c-.6 1.9-2 3.6-3.8 3.6z" fill="#ffb703"/><ellipse cx="5.3" cy="5.9" rx=".75" ry="1" fill="#2a2670"/></svg>
<div class="cell" style="left:184px;top:361.10px">Project Moon(2)</div>
<div class="num" style="left:624px;width:83.5px;top:361.80px;font-size:8.5px">10.17h</div>
<div class="num" style="left:707.5px;width:41px;top:361.50px;font-size:9.8px">2.17h</div>
<div class="num" style="left:751.20px;width:27.70px;top:361.80px">2h</div>
<div class="num" style="left:917.40px;width:27.70px;top:361.80px">0.17h</div>
<svg class="abs" style="left:15px;top:389.50px" width="9" height="6.5" viewBox="0 0 9 6.5"><path d="M1 5L4.5 1.5 8 5" fill="none" stroke="#555" stroke-width="1.3"/></svg>
<svg class="abs" style="left:275px;top:387.6px" width="8" height="10.5" viewBox="0 0 8 10.5"><path d="M1 0.8h6v9L4 7.2 1 9.8z" fill="none" stroke="#6a9a23" stroke-width="1.3" stroke-linejoin="round"/></svg>
<div class="cell" style="left:290px;top:387.50px">Story of my life</div>
<div class="cell" style="left:380px;top:387.50px">(1)</div>
<div class="num" style="left:624px;width:83.5px;top:388.20px;font-size:8.5px">10h</div>
<div class="num" style="left:707.5px;width:41px;top:387.90px;font-size:9.8px">2h</div>
<div class="num" style="left:751.20px;width:27.70px;top:388.20px">2h</div>
<svg class="abs" style="left:15px;top:415.90px" width="9" height="6.5" viewBox="0 0 9 6.5"><path d="M1 1.5L4.5 5 8 1.5" fill="none" stroke="#555" stroke-width="1.3"/></svg>
<svg class="abs" style="left:398px;top:412.20px" width="13" height="14" viewBox="0 0 13 14"><path d="M1.9 8.2L7.7 1.9Q7.7 6.1 10.9 6.5L4.9 12.9Q4.9 8.4 1.9 8.2z" fill="none" stroke="#ad4cf0" stroke-width="1.1" stroke-linejoin="round"/></svg>
<div class="cell" style="left:416px;top:413.90px;color:#666">PROJ-14</div>
<div class="cell" style="left:462.5px;top:413.90px">MiroEpic(1)</div>
<div class="num" style="left:624px;width:83.5px;top:414.60px;font-size:8.5px">10h</div>
<div class="num" style="left:707.5px;width:41px;top:414.30px;font-size:9.8px">2h</div>
<div class="num" style="left:751.20px;width:27.70px;top:414.60px">2h</div>
<svg class="abs" style="left:15px;top:442.30px" width="9" height="6.5" viewBox="0 0 9 6.5"><path d="M1 1.5L4.5 5 8 1.5" fill="none" stroke="#555" stroke-width="1.3"/></svg>
<svg class="abs" style="left:275px;top:440.4px" width="8" height="10.5" viewBox="0 0 8 10.5"><path d="M1 0.8h6v9L4 7.2 1 9.8z" fill="none" stroke="#6a9a23" stroke-width="1.3" stroke-linejoin="round"/></svg>
<div class="cell" style="left:290px;top:440.30px">Story MOON</div>
<div class="cell" style="left:380px;top:440.30px">(1)</div>
<div class="num" style="left:624px;width:83.5px;top:441.00px;font-size:8.5px">0.17h</div>
<div class="num" style="left:707.5px;width:41px;top:440.70px;font-size:9.8px">0.17h</div>
<div class="num" style="left:917.40px;width:27.70px;top:441.00px">0.17h</div>
<svg class="abs" style="left:15px;top:468.70px" width="9" height="6.5" viewBox="0 0 9 6.5"><path d="M1 1.5L4.5 5 8 1.5" fill="none" stroke="#555" stroke-width="1.3"/></svg>
<svg class="abs" style="left:162.1px;top:465.6px" width="12.8" height="12.8" viewBox="0 0 12.8 12.8"><rect width="12.8" height="12.8" rx="2.8" fill="#2cc3ea"/><rect x="2.6" y="2" width="7.6" height="8.6" fill="#fff"/><path d="M3.3 3v6.8" stroke="#9aa" stroke-width=".5" stroke-dasharray=".6 .6"/><path d="M5.6 9.4l3.4-5.6 1.2.7-3.4 5.6-1.3.4z" fill="#ffa516"/><circle cx="9.7" cy="3.8" r=".8" fill="#ff4d4d"/></svg>
<div class="cell" style="left:184px;top:466.70px">SpaceTravel(1)</div>
<div class="num" style="left:624px;width:83.5px;top:467.40px;font-size:8.5px">4h</div>
<div class="num" style="left:707.5px;width:41px;top:467.10px;font-size:9.8px">4h</div>
<div class="num" style="left:917.40px;width:27.70px;top:467.40px">4h</div>
<svg class="abs" style="left:15px;top:495.10px" width="9" height="6.5" viewBox="0 0 9 6.5"><path d="M1 1.5L4.5 5 8 1.5" fill="none" stroke="#555" stroke-width="1.3"/></svg>
<svg class="abs" style="left:162.1px;top:492.0px" width="12.8" height="12.8" viewBox="0 0 12.8 12.8"><rect width="12.8" height="12.8" rx="2.6" fill="#5a4bd1"/><path d="M4.2 4.4c1.8-1.4 4-1.1 5.2.7" fill="none" stroke="#fff" stroke-width="1.5"/><path d="M10.4 4.2l-.2 2.8-2.4-1.3z" fill="#fff"/><path d="M2.8 6.2c.1 2.6 2.8 4 5.2 3" fill="none" stroke="#22d3ee" stroke-width="1.6"/><circle cx="6.4" cy="6.4" r="1.6" fill="#6a5ae0"/></svg>
<div class="cell" style="left:184px;top:493.10px">Go to market …(2)</div>
<div class="num" style="left:624px;width:83.5px;top:493.80px;font-size:8.5px">36.50h</div>
<div class="num" style="left:707.5px;width:41px;top:493.50px;font-size:9.8px">43.67h</div>
<div class="num" style="left:751.20px;width:27.70px;top:493.80px">0.50h</div>
<div class="num" style="left:806.60px;width:27.70px;top:493.80px">0.50h</div>
<div class="num" style="left:834.30px;width:27.70px;top:493.80px">8h</div>
<div class="num" style="left:862.00px;width:27.70px;top:493.80px">0.67h</div>
<div class="num" style="left:889.70px;width:27.70px;top:493.80px">0.50h</div>
<div class="num" style="left:917.40px;width:27.70px;top:493.80px">0.50h</div>
<svg class="abs" style="left:15px;top:521.50px" width="9" height="6.5" viewBox="0 0 9 6.5"><path d="M1 1.5L4.5 5 8 1.5" fill="none" stroke="#555" stroke-width="1.3"/></svg>
<svg class="abs" style="left:162.1px;top:518.4px" width="12.8" height="12.8" viewBox="0 0 12.8 12.8"><rect width="12.8" height="12.8" rx="2.8" fill="#2a7ae8"/><rect x="3" y="2.6" width="6.8" height="10.2" fill="#fff"/><rect x="3" y="2.6" width="6.8" height="1.2" fill="#1a1a2a"/><ellipse cx="6" cy="6.2" rx="1.4" ry="1.5" fill="#f7a8a0"/><circle cx="5.2" cy="9.5" r=".7" fill="#ff2a2a"/><circle cx="7.2" cy="9.5" r=".6" fill="#8fd0ff"/></svg>
<div class="cell" style="left:184px;top:519.50px">ProjectIncogn…(1)</div>
<div class="num" style="left:624px;width:83.5px;top:520.20px;font-size:8.5px">6h</div>
<div class="num" style="left:707.5px;width:41px;top:519.90px;font-size:9.8px">19h</div>
<div class="num" style="left:806.60px;width:27.70px;top:520.20px">6h</div>
<div class="num" style="left:834.30px;width:27.70px;top:520.20px">2h</div>
<div class="num" style="left:862.00px;width:27.70px;top:520.20px">4h</div>
<div class="num" style="left:889.70px;width:27.70px;top:520.20px">2h</div>
<div class="num" style="left:917.40px;width:27.70px;top:520.20px">0.50h</div>
<div class="num" style="left:945.10px;width:27.70px;top:520.20px">4h</div>
<div class="num" style="left:972.80px;width:27.70px;top:520.20px">0.50h</div>
<div class="abs" style="left:947px;top:258px;width:46.5px;height:55px;background:#fff;border-radius:4px;box-shadow:0 2px 6px rgba(0,0,0,0.22),0 0 1px rgba(0,0,0,0.15)"></div>
<div class="abs" style="left:947px;top:285.5px;width:46.5px;height:23px;background:#f3f3f3"></div>
<div class="t" style="left:958px;top:270px;font-size:10px;color:#222">CSV</div>
<div class="t" style="left:958.5px;top:292.5px;font-size:10px;color:#222">Excel</div>
<div class="abs" style="left:952px;top:493px;width:33.5px;height:33.5px;border-radius:50%;background:#1271b8;box-shadow:0 1px 4px rgba(0,0,0,0.2)"></div>
<svg class="abs" style="left:960px;top:501px" width="17" height="17" viewBox="0 0 17 17"><path d="M3 1h11a2 2 0 0 1 2 2v13l-3-2H3a2 2 0 0 1-2-2V3a2 2 0 0 1 2-2z" fill="#fff"/><path d="M4.5 10.8c2.2 1.5 5.8 1.5 8 0" fill="none" stroke="#1271b8" stroke-width="1.1" stroke-linecap="round"/></svg>
</body></html>
